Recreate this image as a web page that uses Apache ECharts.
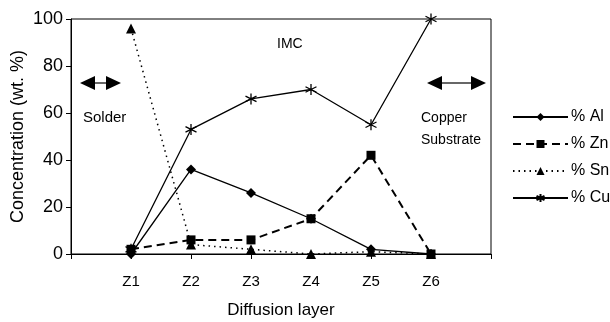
<!DOCTYPE html>
<html>
<head>
<meta charset="utf-8">
<script src="https://cdn.jsdelivr.net/npm/echarts@6/dist/echarts.min.js"></script>
<style>
html,body{margin:0;padding:0;background:#fff;}
#main{width:610px;height:322px;}
</style>
</head>
<body>
<div id="main"></div>
<script>
// 数据
var layers = ['', 'Z1', 'Z2', 'Z3', 'Z4', 'Z5', 'Z6', ''];
var al = ['-', 0, 36, 26, 15, 2, 0, '-'];
var zn = ['-', 2, 6, 6, 15, 42, 0, '-'];
var sn = ['-', 96, 4, 2, 0, 1, 0, '-'];
var cu = ['-', 2, 53, 66, 70, 55, 100, '-'];
var yTicks = [0, 20, 40, 60, 80, 100];

var font = 'Liberation Sans, Arial, sans-serif';
var star = 'path://M5,0L5,10M0.7,2.5L9.3,7.5M0.7,7.5L9.3,2.5';

// 双向箭头
function arrow(x1, x2, y) {
    var h = 7, w = 15;
    return [
        {type: 'line', shape: {x1: x1 + w, y1: y, x2: x2 - w, y2: y}, style: {stroke: '#000', lineWidth: 1.2}},
        {type: 'polygon', shape: {points: [[x1, y], [x1 + w, y - h], [x1 + w, y + h]]}, style: {fill: '#000'}},
        {type: 'polygon', shape: {points: [[x2, y], [x2 - w, y - h], [x2 - w, y + h]]}, style: {fill: '#000'}}
    ];
}

var myChart = echarts.init(document.getElementById('main'));
var option = {
    backgroundColor: '#fff',
    animation: false,
    textStyle: {fontFamily: font, color: '#000'},
    grid: {
        left: 71, right: 119, top: 19, bottom: 68,
        outerBoundsMode: 'none',
        show: true, borderColor: '#000', borderWidth: 1
    },
    legend: {
        orient: 'vertical',
        left: 512, top: 109,
        padding: 0,
        itemWidth: 55, itemHeight: 10, itemGap: 11,
        textStyle: {fontSize: 16, color: '#000', fontFamily: font, padding: [0, 0, 0, -2]},
        data: ['% Al', '% Zn', '% Sn', '% Cu']
    },
    xAxis: {
        type: 'category',
        boundaryGap: false,
        data: layers,
        name: 'Diffusion layer',
        nameLocation: 'middle',
        nameGap: 48,
        nameMoveOverlap: false,
        nameTextStyle: {fontSize: 17, color: '#000'},
        axisLine: {lineStyle: {color: '#000', width: 1}},
        axisTick: {show: true, interval: 0, length: 5, lineStyle: {color: '#000'}},
        axisLabel: {interval: 0, margin: 20, fontSize: 15, color: '#000'},
        splitLine: {show: false}
    },
    yAxis: {
        type: 'value',
        min: yTicks[0], max: yTicks[yTicks.length - 1], interval: 20,
        name: 'Concentration (wt. %)',
        nameLocation: 'middle',
        nameGap: 44,
        nameMoveOverlap: false,
        nameTextStyle: {fontSize: 18, color: '#000'},
        axisLine: {show: true, lineStyle: {color: '#000', width: 1}},
        axisTick: {show: true, length: 5, lineStyle: {color: '#000'}},
        axisLabel: {margin: 8, fontSize: 18, color: '#000'},
        splitLine: {show: false}
    },
    series: [
        {
            name: '% Al', type: 'line', data: al,
            symbol: 'diamond', symbolSize: 10,
            itemStyle: {color: '#000'},
            lineStyle: {color: '#000', width: 1.3, type: 'solid'}
        },
        {
            name: '% Zn', type: 'line', data: zn,
            symbol: 'rect', symbolSize: 9,
            itemStyle: {color: '#000'},
            lineStyle: {color: '#000', width: 2, type: [8, 5]}
        },
        {
            name: '% Sn', type: 'line', data: sn,
            symbol: 'triangle', symbolSize: 10,
            itemStyle: {color: '#000'},
            lineStyle: {color: '#000', width: 1.5, type: [1.5, 4]}
        },
        {
            name: '% Cu', type: 'line', data: cu,
            symbol: star, symbolSize: 11,
            itemStyle: {color: '#000', borderColor: '#000', borderWidth: 1.3},
            lineStyle: {color: '#000', width: 1.3, type: 'solid'}
        }
    ],
    graphic: [
        {type: 'text', left: 277, top: 37, style: {text: 'IMC', fontSize: 14, fontFamily: font, fill: '#000'}},
        {type: 'text', left: 83, top: 110, style: {text: 'Solder', fontSize: 15, fontFamily: font, fill: '#000'}},
        {type: 'text', left: 421, top: 107, style: {text: 'Copper\nSubstrate', fontSize: 14, lineHeight: 22, fontFamily: font, fill: '#000'}}
    ].concat(arrow(80, 121, 83)).concat(arrow(427, 486, 83))
};
myChart.setOption(option);
</script>
</body>
</html>
